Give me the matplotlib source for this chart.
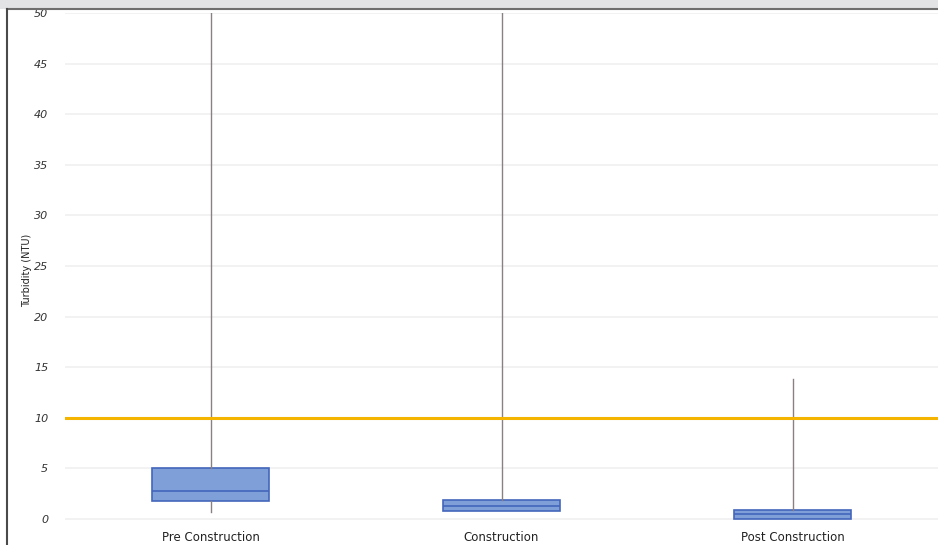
import matplotlib
matplotlib.use("Agg")
import matplotlib.pyplot as plt
from matplotlib.patches import Rectangle
from matplotlib.lines import Line2D

categories = ["Pre Construction", "Construction", "Post Construction"]
whisker_low = [0.7, 0.8, 0.0]
q1 = [1.8, 0.8, 0.0]
median = [2.8, 1.3, 0.5]
q3 = [5.0, 1.9, 0.9]
whisker_high = [60.0, 60.0, 13.8]
threshold = 10.0
y_ticks = [0, 5, 10, 15, 20, 25, 30, 35, 40, 45, 50]

fig = plt.figure(figsize=(9.38, 5.45), dpi=100)
ax = fig.add_axes([65/938, 1-527/545, 873/938, 514/545])

stats = []
for i, c in enumerate(categories):
    stats.append(dict(label=c, whislo=whisker_low[i], q1=q1[i], med=median[i],
                      q3=q3[i], whishi=whisker_high[i]))

positions = list(range(1, len(categories) + 1))
ax.bxp(stats, positions=positions, widths=0.405, showfliers=False, showcaps=False,
       patch_artist=True,
       boxprops=dict(facecolor="#7f9fd9", edgecolor="#4466bb", linewidth=1.2),
       medianprops=dict(color="#4466bb", linewidth=1.2),
       whiskerprops=dict(color="#8a8080", linewidth=1.0),
       zorder=3)

ax.axhline(threshold, color="#f5b400", linewidth=2.2, zorder=4, xmin=0.0)

ax.set_xlim(0.5, 3.5)
ax.set_ylim(-0.8, 50)
ax.set_yticks(y_ticks)
ax.set_yticklabels([str(t) for t in y_ticks], fontsize=8, color="#333333", style="italic")
ax.set_xticks(positions)
ax.set_xticklabels(categories, fontsize=8.5, color="#222222")
ax.tick_params(axis="both", length=0)
ax.tick_params(axis="y", pad=12)
ax.tick_params(axis="x", pad=3)
ax.yaxis.grid(True, color="#f0f0f0", linewidth=1.2, zorder=0)
for s in ax.spines.values():
    s.set_visible(False)

fig.text(27/938, 1-270/545, "Turbidity (NTU)", rotation=90, fontsize=7,
         ha="center", va="center", color="#222222")

# scan frame
fig.patches.append(Rectangle((0, 1-9/545), 1, 9/545, transform=fig.transFigure,
                             facecolor="#e2e3e5", edgecolor="none", zorder=0))
fig.lines.append(Line2D([7/938, 1], [1-9/545, 1-9/545], transform=fig.transFigure,
                        color="#6e6e6e", linewidth=1.5))
fig.lines.append(Line2D([7/938, 7/938], [0, 1-9/545], transform=fig.transFigure,
                        color="#4a4a4a", linewidth=1.5))

fig.savefig("out.png", dpi=100)
